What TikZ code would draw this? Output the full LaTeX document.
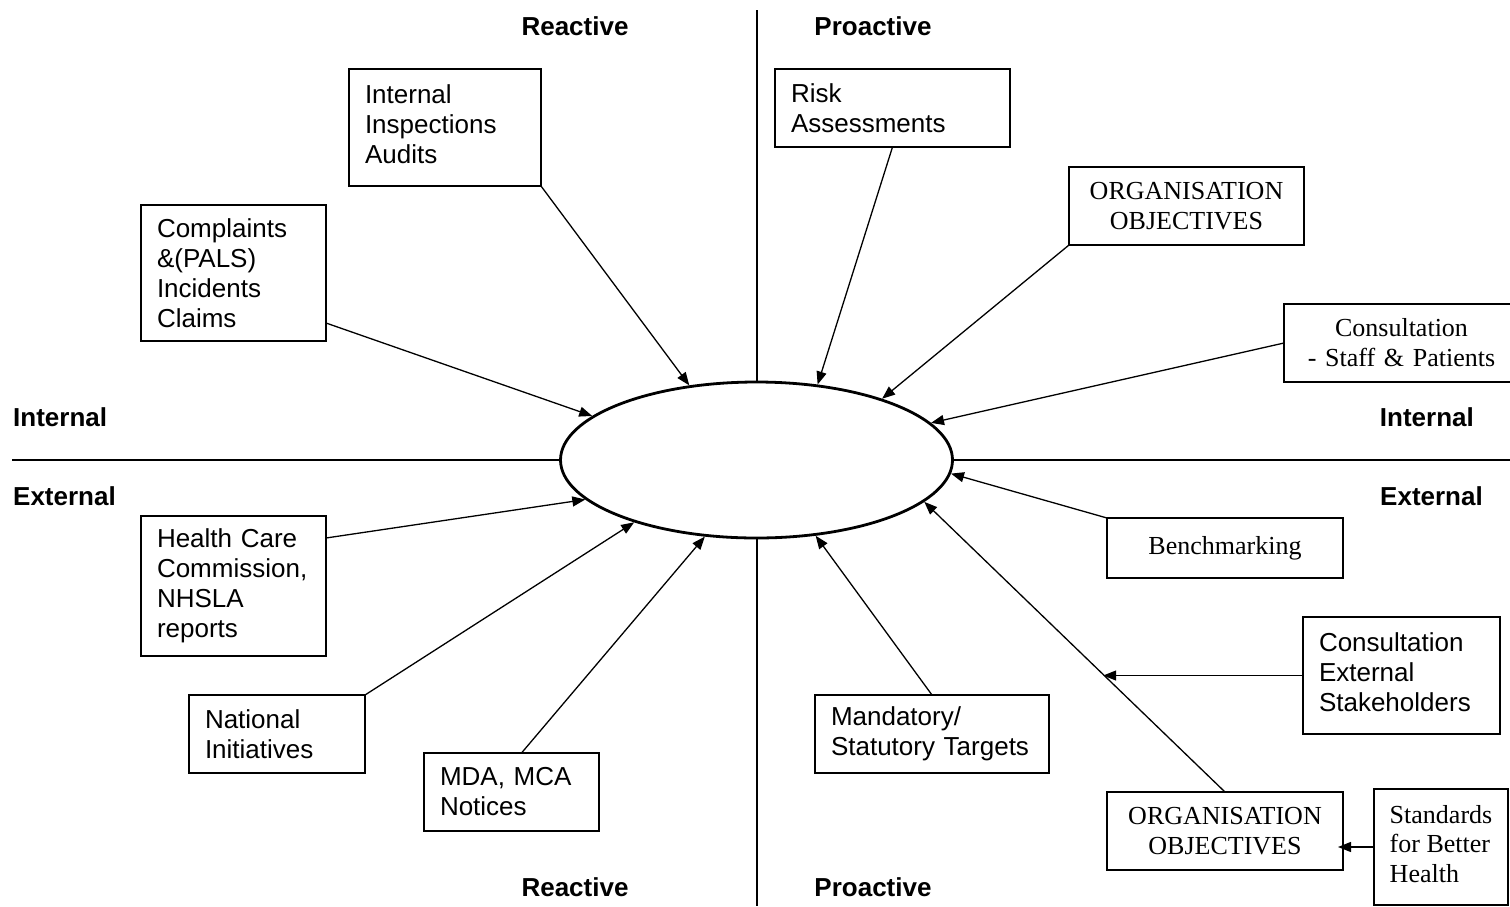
\documentclass[tikz,border=0pt]{standalone}
\usepackage{fontspec}
\setmainfont{Liberation Serif}
\setsansfont{Liberation Sans}
\usetikzlibrary{arrows.meta,shapes.geometric,calc}
\begin{document}
\begin{tikzpicture}[x=1pt,y=-1pt,
  sbox/.style={draw, line width=1.1pt, anchor=north west, inner xsep=16pt, inner ysep=0pt, align=left, outer sep=0pt, font=\sffamily\fontsize{26}{30}\selectfont},
  rbox/.style={draw, line width=1.1pt, anchor=north west, inner xsep=4pt, inner ysep=0pt, align=center, outer sep=0pt, font=\rmfamily\fontsize{26}{30}\selectfont},
  lbl/.style={inner sep=0pt, font=\sffamily\bfseries\fontsize{26}{30}\selectfont},
  conn/.style={line width=1.3pt, -{Triangle[length=13pt,width=10pt]}},
  axisline/.style={line width=2pt}
]
\useasboundingbox (0,0) rectangle (1510,906);
\clip (0,0) rectangle (1510,906);

% central ellipse
\node[draw, ellipse, line width=2.8pt, minimum width=392pt, minimum height=156pt, inner sep=0pt] (E) at (756.5,460) {};

% axes
\coordinate (axT) at (756.5,10);
\coordinate (axB) at (756.5,906);
\coordinate (axL) at (12,460);
\coordinate (axR) at (1510,460);
\draw[axisline] (axT) -- (E.north);
\draw[axisline] (E.south) -- (axB);
\draw[axisline] (axL) -- (E.west);
\draw[axisline] (E.east) -- (axR);

% quadrant labels
\node[lbl] (tR) at (575,26) {Reactive};
\node[lbl] (tP) at (873,26) {Proactive};
\node[lbl, anchor=west] (iL) at (13,417) {Internal};
\node[lbl, anchor=east] (iR) at (1474,417) {Internal};
\node[lbl, anchor=west] (eL) at (13,496) {External};
\node[lbl, anchor=east] (eR) at (1483,496) {External};
\node[lbl] (bR) at (575,887) {Reactive};
\node[lbl] (bP) at (873,887) {Proactive};

% boxes
\node[sbox, text width=160pt, minimum height=117pt] (b1) at (349,69) {\strut Internal\\Inspections\\Audits\strut};
\node[sbox, text width=153pt, minimum height=136pt] (b2) at (141,205) {Complaints\\\&(PALS)\\Incidents\\Claims};
\node[sbox, text width=203pt, minimum height=78pt] (b3) at (775,69) {Risk\\Assessments};
\node[rbox, text width=227pt, minimum height=78pt] (b4) at (1069,167) {ORGANISATION\\OBJECTIVES};
\node[rbox, text width=227pt, minimum height=78pt] (b5) at (1284,304) {Consultation\\- Staff \& Patients};
\node[rbox, text width=228pt, minimum height=60pt] (b6) at (1107,518) {Benchmarking};
\node[sbox, text width=165pt, minimum height=117pt] (b7) at (1303,617) {\strut Consultation\\External\\Stakeholders\strut};
\node[rbox, text width=228pt, minimum height=78pt] (b8) at (1107,792) {ORGANISATION\\OBJECTIVES};
\node[draw, line width=1.1pt, anchor=north west, inner xsep=0pt, inner ysep=0pt, align=left, outer sep=0pt, font=\rmfamily\fontsize{26}{29.5}\selectfont, minimum width=134pt, minimum height=116pt] (b9) at (1374,789) {\strut Standards\\for Better\\Health\strut};
\node[sbox, text width=202pt, minimum height=78pt] (b10) at (815,695) {Mandatory/\\Statutory Targets};
\node[sbox, text width=143pt, minimum height=78pt] (b11) at (424,753) {MDA, MCA\\Notices};
\node[sbox, text width=144pt, minimum height=78pt] (b12) at (189,695) {National\\Initiatives};
\node[sbox, text width=153pt, minimum height=140pt] (b13) at (141,516) {Health Care\\Commission,\\NHSLA\\reports};

% connectors
\draw[conn] (b1.south east) -- (E.132.2);
\draw[conn] ([yshift=18pt]b2.south east) -- (E.165.4);
\draw[conn] (b3.south) -- (E.51.6);
\draw[conn] (b4.south west) -- (E.26.4);
\draw[conn] (b5.west) -- (E.12);
\draw[conn] (b6.north west) -- (E.-4.4);
\draw[conn] (b8.north) -- (E.-14.9);
\coordinate (j) at ($(b8.north)!0.405!(E.-14.9)$);
\draw[conn] (b7.west) -- (b7.west -| j);
\coordinate (k) at (b9.west -| b8.east);
\draw[conn] (b9.west) -- ([xshift=-5pt]k);
\draw[conn] (b10.north) -- (E.-52.5);
\draw[conn] ([xshift=10pt]b11.north) -- (E.-124.6);
\draw[conn] (b12.north east) -- (E.-153.8);
\draw[conn] ([yshift=-22pt]b13.north east) -- (E.-167.6);
\end{tikzpicture}
\end{document}
